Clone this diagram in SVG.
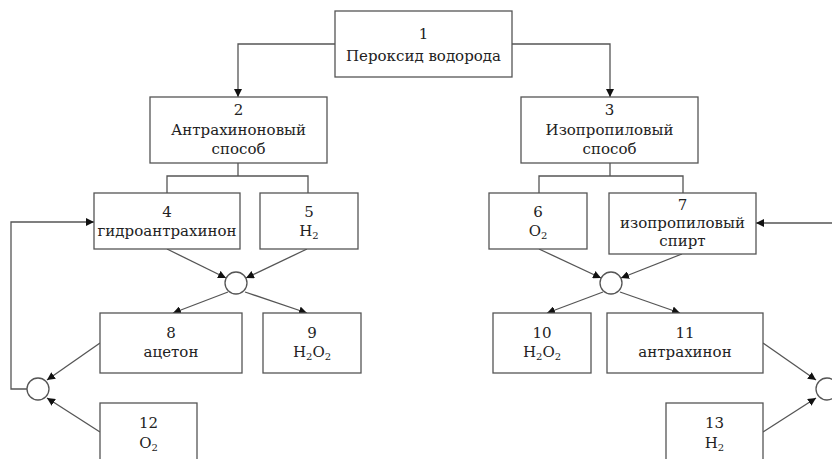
<svg xmlns="http://www.w3.org/2000/svg" width="832" height="459" viewBox="0 0 832 459">
<defs>
<marker id="ah" viewBox="0 0 10 10" refX="10" refY="5" markerWidth="8" markerHeight="8" markerUnits="userSpaceOnUse" orient="auto">
<path d="M0,0 L10,5 L0,10 z" fill="#111"/>
</marker>
<style>
.b{fill:#fff;stroke:#555;stroke-width:1.3}
.c{fill:#fff;stroke:#555;stroke-width:1.3}
.l{fill:none;stroke:#555;stroke-width:1.3}
.a{fill:none;stroke:#555;stroke-width:1.3;marker-end:url(#ah)}
text{font-family:'DejaVu Serif','Liberation Serif',serif;font-size:15px;fill:#222;text-anchor:middle}
.s{font-size:10px}
</style>
</defs>
<rect width="832" height="459" fill="#fff"/>
<g id="connectors">
<polyline class="a" points="335,44 238,44 238,97"/>
<polyline class="a" points="512,44 610,44 610,97"/>
<polyline class="l" points="238,163 238,176"/>
<polyline class="l" points="167,193 167,176 308,176 308,193"/>
<polyline class="l" points="610,163 610,176"/>
<polyline class="l" points="539,193 539,176 683,176 683,193"/>
<line class="a" x1="167" y1="249" x2="226" y2="278"/>
<line class="a" x1="307" y1="249" x2="246" y2="278"/>
<line class="a" x1="228" y1="292" x2="173" y2="313"/>
<line class="a" x1="245" y1="292" x2="307" y2="313"/>
<line class="a" x1="100" y1="343" x2="47" y2="380"/>
<line class="a" x1="100" y1="432" x2="47" y2="398"/>
<polyline class="a" points="27,389 11,389 11,222 94,222"/>
<line class="a" x1="539" y1="249" x2="601" y2="278"/>
<line class="a" x1="682" y1="254" x2="621" y2="278"/>
<line class="a" x1="603" y1="292" x2="547" y2="313"/>
<line class="a" x1="620" y1="292" x2="680" y2="313"/>
<line class="a" x1="832" y1="223" x2="756" y2="223"/>
<line class="a" x1="763" y1="343" x2="816" y2="380"/>
<line class="a" x1="763" y1="432" x2="816" y2="398"/>
</g>
<g id="j1"><circle class="c" cx="236" cy="283" r="11"/></g>
<g id="j2"><circle class="c" cx="38" cy="389" r="11"/></g>
<g id="j3"><circle class="c" cx="611" cy="283" r="11"/></g>
<g id="j4"><circle class="c" cx="827" cy="389" r="11"/></g>
<g id="n1"><rect class="b" x="335" y="11" width="177" height="66"/><text x="423.5" y="39">1</text><text x="423.5" y="61">Пероксид водорода</text></g>
<g id="n2"><rect class="b" x="150" y="97" width="177" height="66"/><text x="238.5" y="115">2</text><text x="238.5" y="135">Антрахиноновый</text><text x="238.5" y="154">способ</text></g>
<g id="n3"><rect class="b" x="521" y="97" width="177" height="66"/><text x="609.5" y="115">3</text><text x="609.5" y="135">Изопропиловый</text><text x="609.5" y="154">способ</text></g>
<g id="n4"><rect class="b" x="94" y="193" width="146" height="56"/><text x="167" y="217">4</text><text x="167" y="236">гидроантрахинон</text></g>
<g id="n5"><rect class="b" x="260" y="193" width="98" height="56"/><text x="309" y="217">5</text><text x="309" y="236">H<tspan class="s" dy="3">2</tspan></text></g>
<g id="n6"><rect class="b" x="489" y="193" width="98" height="56"/><text x="538" y="217">6</text><text x="538" y="236">O<tspan class="s" dy="3">2</tspan></text></g>
<g id="n7"><rect class="b" x="609" y="193" width="147" height="61"/><text x="682.5" y="210">7</text><text x="682.5" y="228">изопропиловый</text><text x="682.5" y="246">спирт</text></g>
<g id="n8"><rect class="b" x="100" y="313" width="142" height="60"/><text x="171" y="338">8</text><text x="171" y="357">ацетон</text></g>
<g id="n9"><rect class="b" x="263" y="313" width="98" height="60"/><text x="312" y="338">9</text><text x="312" y="357">H<tspan class="s" dy="3">2</tspan><tspan dy="-3">O</tspan><tspan class="s" dy="3">2</tspan></text></g>
<g id="n10"><rect class="b" x="493" y="313" width="98" height="60"/><text x="542" y="338">10</text><text x="542" y="357">H<tspan class="s" dy="3">2</tspan><tspan dy="-3">O</tspan><tspan class="s" dy="3">2</tspan></text></g>
<g id="n11"><rect class="b" x="607" y="313" width="156" height="60"/><text x="685" y="338">11</text><text x="685" y="357">антрахинон</text></g>
<g id="n12"><rect class="b" x="100" y="403" width="97" height="70"/><text x="148.5" y="428">12</text><text x="148.5" y="448">O<tspan class="s" dy="3">2</tspan></text></g>
<g id="n13"><rect class="b" x="666" y="403" width="97" height="70"/><text x="714.5" y="428">13</text><text x="714.5" y="448">H<tspan class="s" dy="3">2</tspan></text></g>
</svg>
